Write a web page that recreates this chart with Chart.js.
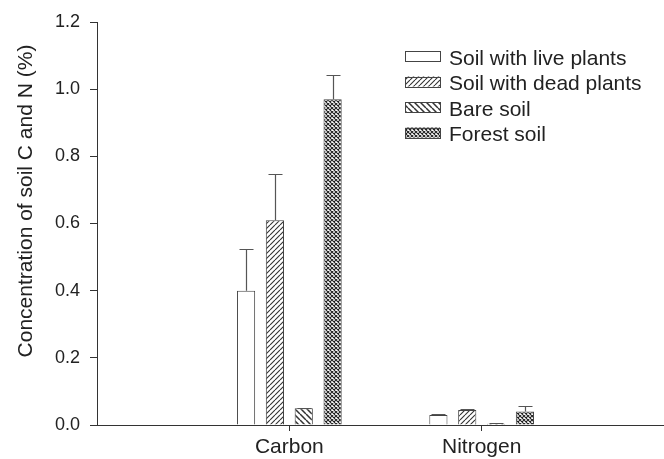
<!DOCTYPE html>
<html>
<head>
<title>Soil C and N</title>
<script src="https://cdn.jsdelivr.net/npm/chart.js"></script>
<style>
html, body { margin: 0; padding: 0; overflow: hidden; background: #fff; }
</style>
</head>
<body>
<canvas id="chart" width="674" height="459"></canvas>
<script>
const categories = ['Carbon', 'Nitrogen'];
const seriesNames = ['Soil with live plants', 'Soil with dead plants', 'Bare soil', 'Forest soil'];
const liveMean = [0.40, 0.030];
const liveErr = [0.125, 0.002];
const deadMean = [0.61, 0.045];
const deadErr = [0.138, 0.003];
const bareMean = [0.050, 0.004];
const bareErr = [0.002, 0.001];
const forestMean = [0.97, 0.040];
const forestErr = [0.072, 0.017];
const yTicks = [0, 0.2, 0.4, 0.6, 0.8, 1.0, 1.2];

const FONT = "'Liberation Sans', Arial, sans-serif";
const INK = '#222';

// small tiles for the hatch fills
function hatch(kind) {
    const s = kind === 'back' ? 6 : (kind === 'cross' ? 4 : 5);
    const c = document.createElement('canvas');
    c.width = s; c.height = s;
    const g = c.getContext('2d');
    g.fillStyle = '#fff';
    g.fillRect(0, 0, s, s);
    g.strokeStyle = kind === 'cross' ? '#222' : '#333';
    g.lineWidth = kind === 'back' ? 1.5 : 1.1;
    g.beginPath();
    for (const o of [-s, 0, s]) {
        if (kind === 'fwd' || kind === 'cross') { g.moveTo(o, s); g.lineTo(o + s, 0); }
        if (kind === 'back' || kind === 'cross') { g.moveTo(o, 0); g.lineTo(o + s, s); }
    }
    g.stroke();
    return g.createPattern(c, 'repeat');
}

const ctx = document.getElementById('chart').getContext('2d');
const fills = ['#fff', hatch('fwd'), hatch('back'), hatch('cross')];
const means = [liveMean, deadMean, bareMean, forestMean];
const errs = [liveErr, deadErr, bareErr, forestErr];

const datasets = seriesNames.map((name, i) => ({
    label: name,
    data: means[i].map((v, j) => ({ x: j + 1, y: v })),
    errors: errs[i],
    backgroundColor: fills[i],
    borderColor: '#444',
    borderWidth: 1,
    categoryPercentage: 0.6,
    barPercentage: 0.63
}));

const errorBars = {
    id: 'errorBars',
    afterDatasetsDraw(chart) {
        const c = chart.ctx, y = chart.scales.y;
        c.save();
        c.strokeStyle = '#555';
        c.lineWidth = 1.2;
        chart.data.datasets.forEach((ds, i) => {
            chart.getDatasetMeta(i).data.forEach((bar, j) => {
                const x = Math.round(bar.x) + 0.5;
                const top = Math.round(y.getPixelForValue(ds.data[j].y + ds.errors[j])) + 0.5;
                c.beginPath();
                c.moveTo(x, bar.y);
                c.lineTo(x, top);
                c.moveTo(x - 7, top);
                c.lineTo(x + 7, top);
                c.stroke();
            });
        });
        c.restore();
    }
};

const extras = {
    id: 'extras',
    afterDraw(chart) {
        const c = chart.ctx;
        c.save();
        // y title
        c.fillStyle = INK;
        c.font = '21px ' + FONT;
        c.translate(26, 201);
        c.rotate(-Math.PI / 2);
        c.textAlign = 'center';
        c.textBaseline = 'middle';
        c.fillText('Concentration of soil C and N (%)', 0, 0);
        c.restore();
        // legend
        c.save();
        c.font = '21px ' + FONT;
        c.textBaseline = 'middle';
        chart.data.datasets.forEach((ds, i) => {
            const cy = 56 + i * 25.5;
            c.fillStyle = ds.backgroundColor;
            c.fillRect(405, cy - 5, 35, 10);
            c.strokeStyle = '#444';
            c.lineWidth = 1;
            c.strokeRect(405.5, Math.round(cy - 5) + 0.5, 35, 10);
            c.fillStyle = INK;
            c.fillText(ds.label, 449, cy + 3);
        });
        c.restore();
    }
};

new Chart(ctx, {
    type: 'bar',
    data: { datasets: datasets },
    options: {
        responsive: false,
        animation: false,
        layout: { padding: { top: 22, left: 0, right: 0, bottom: 0 } },
        plugins: { legend: { display: false }, tooltip: { enabled: false } },
        scales: {
            x: {
                type: 'linear',
                min: 0,
                max: 3,
                offset: false,
                afterBuildTicks: s => { s.ticks = categories.map((c, i) => ({ value: i + 1 })); },
                afterFit: s => { s.height = 34; },
                ticks: {
                    callback: v => categories[v - 1],
                    color: INK,
                    font: { family: FONT, size: 21 },
                    padding: 4,
                    maxRotation: 0
                },
                grid: { offset: false, drawOnChartArea: false, drawTicks: true, tickLength: 6, color: '#333' },
                border: { display: true, color: '#333', width: 1 }
            },
            y: {
                min: 0,
                max: 1.2,
                afterBuildTicks: s => { s.ticks = yTicks.map(v => ({ value: v })); },
                afterFit: s => { s.width = 97; },
                ticks: {
                    callback: v => v.toFixed(1),
                    color: INK,
                    font: { family: FONT, size: 18 },
                    padding: 10
                },
                grid: { drawOnChartArea: false, drawTicks: true, tickLength: 7, color: '#333' },
                border: { display: true, color: '#333', width: 1 }
            }
        }
    },
    plugins: [errorBars, extras]
});
</script>
</body>
</html>
